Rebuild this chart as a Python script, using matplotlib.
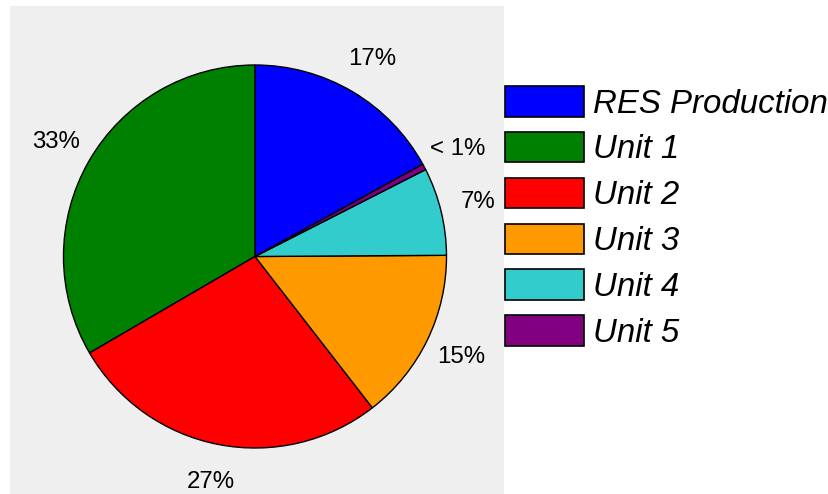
import matplotlib.pyplot as plt
from matplotlib.patches import Patch

plt.rcParams['font.family'] = ['Liberation Sans', 'DejaVu Sans']

# Production share per source (%)
sources = ['RES Production', 'Unit 1', 'Unit 2', 'Unit 3', 'Unit 4', 'Unit 5']
shares = [17.0, 33.4, 27.1, 14.6, 7.4, 0.5]
colors = ['#0000ff', '#008000', '#ff0000', '#ff9900', '#33cccc', '#800080']


def pct_label(v, total):
    p = 100.0 * v / total
    return '< 1%' if p < 1 else '%d%%' % round(p)


total = sum(shares)
labels = [pct_label(v, total) for v in shares]

W, H = 829, 494
fig = plt.figure(figsize=(W / 100, H / 100), dpi=100)

# gray plotting area, pie centre at (255, 256.5) px with radius 191.5 px
left, right, top, bottom = 10, 504, 6, 494
cx, cy, r = 255, 256.5, 191.5
ax = fig.add_axes([left / W, 1 - bottom / H, (right - left) / W, (bottom - top) / H])

# RES slice ends at 12 o'clock, the rest follow counterclockwise
start = 90 - 360.0 * shares[0] / total
wedges, texts = ax.pie(shares, colors=colors, labels=labels, startangle=start,
                       counterclock=True, labeldistance=1.2,
                       wedgeprops=dict(edgecolor='black', linewidth=1.0),
                       textprops=dict(fontsize=17.3, color='black'))
for t in texts:
    t.set_ha('center')
    t.set_va('center')

# pie() switches the frame off, bring the gray background back
ax.set_frame_on(True)
ax.set_facecolor('#efefef')
ax.set_aspect('auto')
ax.set_xlim((left - cx) / r, (right - cx) / r)
ax.set_ylim((cy - bottom) / r, (cy - top) / r)
ax.set_xticks([])
ax.set_yticks([])
for s in ax.spines.values():
    s.set_visible(False)

handles = [Patch(facecolor=c, edgecolor='black', linewidth=1.2) for c in colors]
leg = fig.legend(handles, sources, loc='upper left',
                 bbox_to_anchor=(505 / W, 1 - 86 / H),
                 frameon=False, borderpad=0, borderaxespad=0,
                 prop=dict(size=23.8, style='italic'),
                 handlelength=2.4, handleheight=1.05, handletextpad=0.25,
                 labelspacing=0.37)

fig.savefig('out.png', dpi=100)
